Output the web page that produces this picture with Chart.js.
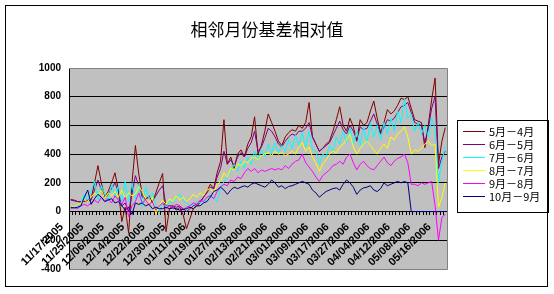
<!DOCTYPE html>
<html><head><meta charset="utf-8">
<script src="https://cdn.jsdelivr.net/npm/chart.js@4"></script>
<style>html,body{margin:0;padding:0;background:#fff}#wrap{width:554px;height:294px}</style>
</head><body><div id="wrap"><canvas id="c" width="554" height="294"></canvas></div>
<script>
const categories = [
 '11/17/2005','11/18/2005','11/21/2005','11/22/2005','11/23/2005','11/24/2005','11/25/2005','11/28/2005','11/29/2005','12/01/2005',
 '12/02/2005','12/05/2005','12/06/2005','12/07/2005','12/08/2005','12/09/2005','12/12/2005','12/13/2005','12/14/2005','12/15/2005',
 '12/16/2005','12/19/2005','12/20/2005','12/21/2005','12/22/2005','12/23/2005','12/26/2005','12/27/2005','12/28/2005','12/29/2005',
 '12/30/2005','01/04/2006','01/05/2006','01/06/2006','01/09/2006','01/10/2006','01/11/2006','01/12/2006','01/13/2006','01/16/2006',
 '01/17/2006','01/18/2006','01/19/2006','01/20/2006','01/23/2006','01/24/2006','01/25/2006','01/26/2006','01/27/2006','02/06/2006',
 '02/07/2006','02/08/2006','02/09/2006','02/10/2006','02/13/2006','02/14/2006','02/15/2006','02/16/2006','02/17/2006','02/20/2006',
 '02/21/2006','02/22/2006','02/23/2006','02/24/2006','02/27/2006','02/28/2006','03/01/2006','03/02/2006','03/03/2006','03/06/2006',
 '03/07/2006','03/08/2006','03/09/2006','03/10/2006','03/13/2006','03/14/2006','03/15/2006','03/16/2006','03/17/2006','03/20/2006',
 '03/21/2006','03/22/2006','03/23/2006','03/24/2006','03/27/2006','03/28/2006','03/29/2006','03/30/2006','03/31/2006','04/03/2006',
 '04/04/2006','04/05/2006','04/06/2006','04/07/2006','04/10/2006','04/11/2006','04/12/2006','04/13/2006','04/17/2006','04/20/2006',
 '04/24/2006','04/27/2006','05/08/2006','05/09/2006','05/10/2006','05/11/2006','05/12/2006','05/15/2006','05/16/2006','05/17/2006',
 '05/18/2006'
];
const tickEvery = 6;
const seriesNames = ['5月－4月','6月－5月','7月－6月','8月－7月','9月－8月','10月－9月'];
const seriesColors = ['#800000','#800080','#00FFFF','#FFFF00','#FF00FF','#000080'];
const s54 = [
 84,80,70,65,75,80,90,200,320,200,
 100,140,200,270,150,-70,30,-150,200,460,
 260,120,80,110,60,130,200,265,-140,20,
 40,10,30,-20,-120,-50,20,40,60,100,
 140,190,160,270,350,640,330,380,300,400,
 430,380,470,520,660,400,460,560,680,620,
 560,490,460,520,550,570,560,600,580,620,
 760,520,470,420,440,470,490,560,640,730,
 600,560,650,590,490,640,600,620,700,770,
 650,550,620,710,680,700,740,790,780,800,
 720,640,630,620,445,600,780,930,330,490,585
];
const s65 = [
 80,75,70,70,70,75,80,150,220,150,
 90,120,160,200,140,40,60,0,120,250,
 180,100,90,100,70,110,150,180,40,40,
 40,30,40,20,0,20,40,50,70,100,
 130,170,160,240,300,420,330,360,320,380,
 410,380,440,480,560,420,450,510,580,560,
 520,470,450,490,520,540,530,560,560,580,
 620,520,470,420,440,460,480,530,580,630,
 570,540,600,560,500,590,570,580,630,680,
 610,540,590,640,630,650,690,730,740,760,
 690,620,610,600,480,580,720,800,300,380,420
];
const s76 = [
 30,20,40,60,120,80,150,210,80,180,
 120,70,190,100,180,60,210,70,200,90,
 190,35,170,90,130,40,0,60,30,70,
 60,100,120,80,60,40,50,70,60,80,
 70,120,90,70,160,210,240,280,330,280,
 350,300,380,330,420,360,430,380,470,400,
 480,410,460,420,500,440,530,460,550,450,
 560,430,420,330,400,380,460,420,520,470,
 560,480,580,470,560,460,590,480,620,520,
 600,500,620,540,650,560,700,620,780,650,
 680,560,620,540,600,520,650,580,200,350,450
];
const s87 = [
 40,30,50,60,80,70,100,130,110,150,
 90,130,110,140,100,150,90,130,110,120,
 175,140,90,60,100,-20,40,80,50,90,
 70,110,80,100,70,90,120,100,130,110,
 150,160,130,190,210,270,240,300,290,330,
 320,350,340,370,380,360,390,400,410,390,
 420,400,410,390,400,420,400,450,480,420,
 450,380,340,280,330,360,400,420,410,450,
 470,500,540,450,400,440,470,490,460,430,
 400,440,470,440,520,500,540,560,590,520,
 400,430,420,440,470,490,460,470,30,100,200
];
const s98 = [
 20,30,20,40,50,40,60,80,60,100,
 70,90,60,110,80,50,100,-35,40,70,
 130,60,80,50,70,10,40,60,20,40,
 30,50,40,10,30,40,60,50,80,70,
 100,110,90,140,170,190,180,220,210,240,
 230,270,300,280,300,270,290,280,290,300,
 290,300,290,320,300,330,350,360,400,340,
 310,280,240,210,250,270,290,320,330,350,
 330,380,400,340,290,330,350,320,300,290,
 320,350,380,340,320,350,370,380,400,340,
 190,190,180,200,190,200,210,40,-200,-40,-20
];
const s109 = [
 30,25,30,40,100,150,50,90,120,100,
 70,80,90,60,70,40,10,30,-20,60,
 50,60,40,50,20,30,20,20,30,20,
 25,20,10,15,20,30,20,40,40,60,
 70,100,140,150,170,150,120,150,170,160,
 170,180,170,190,200,190,180,170,190,220,
 200,170,180,160,175,180,190,200,210,200,
 190,150,130,100,120,140,150,160,165,150,
 190,220,200,170,120,150,165,170,180,150,
 140,160,200,180,190,200,210,200,210,200,
 0,0,0,0,0,0,0,0,0,0,0
];
const seriesValues = [s54, s65, s76, s87, s98, s109];
const yMin = -400, yMax = 1000, yStep = 200;
const titleText = '相邻月份基差相对值';

const cjk = '"Noto Sans CJK SC", sans-serif';
const latin = '"Liberation Sans", Arial, sans-serif';

const decor = {
  id: 'decor',
  beforeDraw(chart) {
    const ctx = chart.ctx, a = chart.chartArea;
    ctx.save();
    ctx.fillStyle = '#fff';
    ctx.fillRect(0, 0, chart.width, chart.height);
    ctx.fillStyle = '#C0C0C0';
    ctx.fillRect(a.left, a.top, a.right - a.left, a.bottom - a.top);
    ctx.restore();
  },
  afterDraw(chart) {
    const ctx = chart.ctx, a = chart.chartArea;
    ctx.save();
    ctx.lineWidth = 1;
    ctx.strokeStyle = '#808080';
    ctx.beginPath();
    ctx.moveTo(a.left, Math.round(a.top) + 0.5);
    ctx.lineTo(Math.round(a.right) + 0.5, Math.round(a.top) + 0.5);
    ctx.lineTo(Math.round(a.right) + 0.5, Math.round(a.bottom) + 0.5);
    ctx.lineTo(a.left, Math.round(a.bottom) + 0.5);
    ctx.stroke();
    // title
    ctx.fillStyle = '#000';
    ctx.font = '17px ' + cjk;
    ctx.textAlign = 'center';
    ctx.textBaseline = 'middle';
    ctx.fillText(titleText, 267, 30);
    // legend
    const lx = 457, ly = 120, lw = 91, lh = 92;
    ctx.fillStyle = '#fff';
    ctx.fillRect(lx, ly, lw, lh);
    ctx.strokeStyle = '#000';
    ctx.strokeRect(lx + 0.5, ly + 0.5, lw, lh);
    ctx.font = '11px ' + cjk;
    ctx.textBaseline = 'middle';
    ctx.textAlign = 'left';
    chart.data.datasets.forEach((ds, i) => {
      const y = 131 + i * 13;
      ctx.strokeStyle = ds.borderColor;
      ctx.beginPath();
      ctx.moveTo(463, y + 0.5);
      ctx.lineTo(485, y + 0.5);
      ctx.stroke();
      ctx.fillStyle = '#000000';
      ctx.fillText(ds.label, 489, y + 1);
    });
    // outer border
    ctx.strokeStyle = '#000';
    ctx.strokeRect(5.5, 5.5, 542, 281);
    ctx.restore();
  }
};

new Chart(document.getElementById('c'), {
  type: 'line',
  data: {
    labels: categories,
    datasets: seriesValues.map((vals, i) => ({
      label: seriesNames[i],
      data: vals,
      borderColor: seriesColors[i],
      backgroundColor: seriesColors[i],
      borderWidth: 1,
      pointRadius: 0,
      tension: 0,
      fill: false,
      order: seriesValues.length - i
    }))
  },
  options: {
    responsive: false,
    animation: false,
    devicePixelRatio: 1,
    layout: { padding: { left: 0, right: 107, top: 68, bottom: 25 } },
    plugins: {
      legend: { display: false },
      tooltip: { enabled: false },
      title: { display: false }
    },
    scales: {
      x: {
        type: 'category',
        position: { y: 0 },
        offset: true,
        grid: { display: true, drawOnChartArea: false, drawTicks: true, tickLength: 3, color: '#000', offset: true },
        border: { display: true, color: '#000' },
        ticks: {
          autoSkip: false, minRotation: 45, maxRotation: 45, labelOffset: -9, padding: 6,
          color: '#000', font: { family: latin, size: 11, weight: 'bold' },
          callback: (v, i) => (i % tickEvery === 0 ? categories[i] : '')
        }
      },
      y: {
        min: yMin, max: yMax,
        ticks: { stepSize: yStep, color: '#000', padding: 8, font: { family: latin, size: 10, weight: 'bold' }, callback: v => String(v) },
        grid: { color: ctx => (ctx.tick && (ctx.tick.value === yMax || ctx.tick.value === yMin)) ? '#808080' : '#000', drawTicks: false },
        border: { display: true, color: '#000' },
        afterFit: s => { s.width = 69; }
      }
    }
  },
  plugins: [decor]
});
</script>
</body></html>
